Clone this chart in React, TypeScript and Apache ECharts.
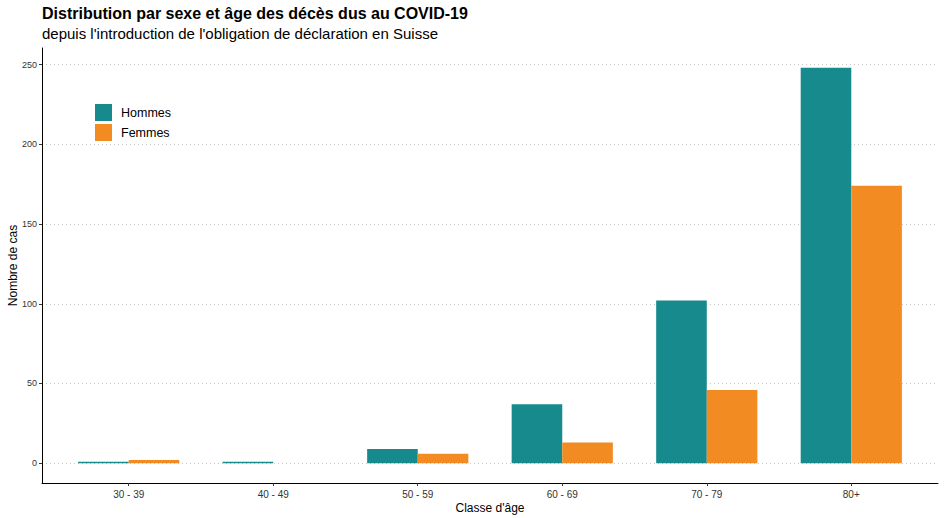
import { useEffect, useRef } from 'react'
import * as echarts from 'echarts'

const categories = ['30 - 39', '40 - 49', '50 - 59', '60 - 69', '70 - 79', '80+']
const hommes = [1, 1, 9, 37, 102, 248]
const femmes = [2, 0, 6, 13, 46, 174]
const yTicks = [0, 50, 100, 150, 200, 250]
const xTicks = categories.map((_, i) => i + 1)

const FONT = '"Liberation Sans", Arial, sans-serif'

export default function App() {
  const rootRef = useRef<HTMLDivElement | null>(null)

  useEffect(() => {
    document.body.style.margin = '0'
    if (!rootRef.current) return
    const chart = echarts.init(rootRef.current, undefined, { renderer: 'svg' })
    chart.setOption({
      animation: false,
      textStyle: { fontFamily: FONT },
      title: {
        text: 'Distribution par sexe et âge des décès dus au COVID-19',
        subtext: "depuis l'introduction de l'obligation de déclaration en Suisse",
        left: 42,
        top: 5,
        padding: 0,
        itemGap: 5,
        textStyle: { fontSize: 16, fontWeight: 'bold', color: '#000', fontFamily: FONT },
        subtextStyle: { fontSize: 15, color: '#000', fontFamily: FONT },
      },
      legend: {
        orient: 'vertical',
        left: 95,
        top: 104,
        padding: 0,
        itemWidth: 17,
        itemHeight: 17,
        itemGap: 3,
        icon: 'rect',
        textStyle: { fontSize: 12.5, color: '#000', fontFamily: FONT, padding: [0, 0, 0, 4] },
        data: ['Hommes', 'Femmes'],
      },
      grid: { left: 42, right: 7, top: 48, bottom: 35, containLabel: false, outerBoundsMode: 'none' },
      xAxis: {
        type: 'value',
        min: 0.4,
        max: 6.6,
        name: "Classe d'âge",
        nameLocation: 'middle',
        nameGap: 19,
        nameMoveOverlap: false,
        nameTextStyle: { fontSize: 12, color: '#000' },
        axisLine: { show: true, onZero: false, lineStyle: { color: '#000', width: 1 } },
        axisTick: { show: true, customValues: xTicks, length: 3, lineStyle: { color: '#333' } },
        axisLabel: {
          customValues: xTicks,
          formatter: (v: number) => categories[v - 1] ?? '',
          fontSize: 10,
          color: '#333',
          margin: 6,
        },
        splitLine: { show: false },
      },
      yAxis: {
        type: 'value',
        min: -12.4,
        max: 260.4,
        name: 'Nombre de cas',
        nameLocation: 'middle',
        nameGap: 23,
        nameMoveOverlap: false,
        nameTextStyle: { fontSize: 12, color: '#000' },
        axisLine: { show: true, onZero: false, lineStyle: { color: '#000', width: 1 } },
        axisTick: { show: true, customValues: yTicks, length: 3, lineStyle: { color: '#333' } },
        axisLabel: { customValues: yTicks, fontSize: 9, color: '#333', margin: 5 },
        splitLine: { show: true, lineStyle: { color: '#c8c8c8', type: [1, 3], width: 1 } },
      },
      series: [
        {
          name: 'Hommes',
          type: 'bar',
          barWidth: 50.6,
          barGap: '0%',
          itemStyle: { color: '#178a8e' },
          data: hommes.map((v, i) => [xTicks[i], v]),
        },
        {
          name: 'Femmes',
          type: 'bar',
          barWidth: 50.6,
          barGap: '0%',
          itemStyle: { color: '#f28b22' },
          data: femmes.map((v, i) => [xTicks[i], v]),
        },
      ],
    })
    return () => chart.dispose()
  }, [])

  return <div ref={rootRef} style={{ width: 945, height: 518 }} />
}
